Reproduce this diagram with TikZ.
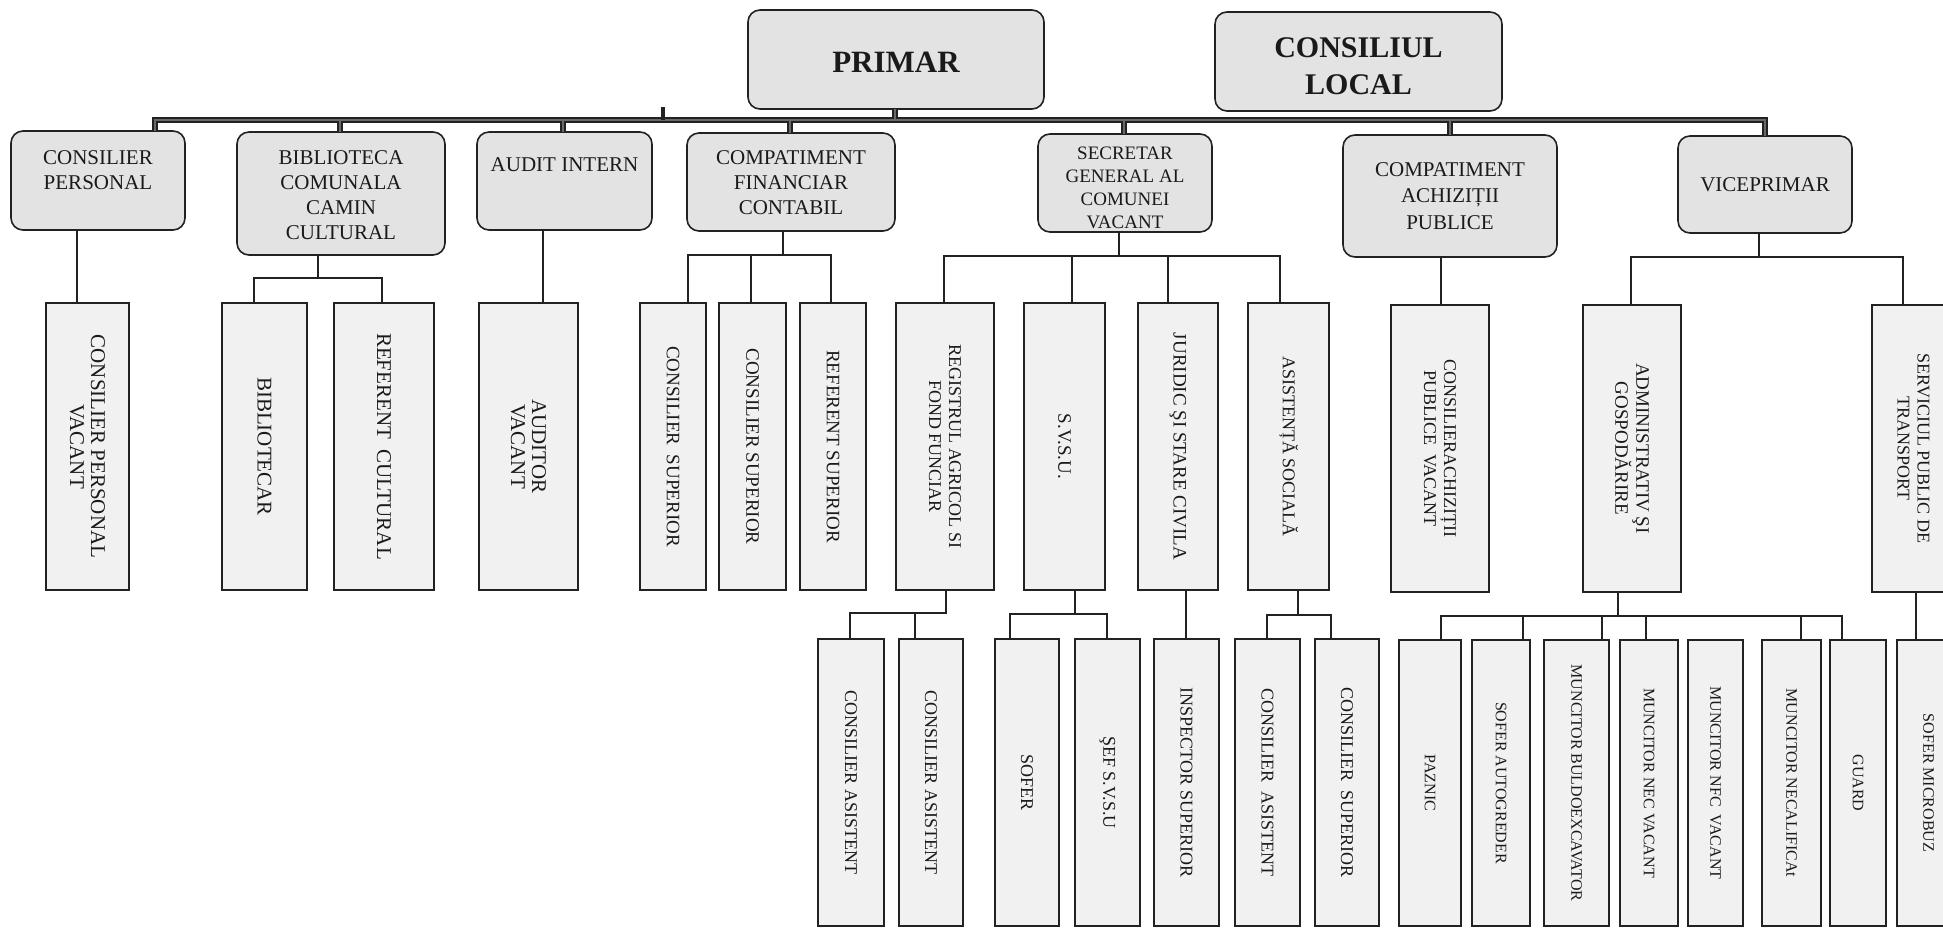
\documentclass[tikz,border=0pt]{standalone}
\usepackage{fontspec}
\setmainfont{Liberation Serif}
\definecolor{rfill}{HTML}{E3E3E3}
\definecolor{tfill}{HTML}{F1F1F1}
\definecolor{edge}{HTML}{222222}
\definecolor{ink}{HTML}{1A1A1A}
\definecolor{busmid}{HTML}{6A6A6A}
\newcommand\dsp{\hspace{0.5em}}
\tikzset{
 rbx/.style={draw=edge, line width=1.6pt, fill=rfill, rounded corners=12pt, inner sep=0pt, outer sep=0pt},
 tbx/.style={draw=edge, line width=1.4pt, fill=tfill, inner sep=0pt, outer sep=0pt},
 lbl/.style={text=ink, align=center, inner sep=0pt},
 vlbl/.style={lbl, rotate=-90},
 conn/.style={draw=edge, line width=1.4pt, line cap=rect},
 busout/.style={draw=edge, line width=6pt},
 busin/.style={draw=busmid, line width=2.4pt},
 fT/.style={font=\fontsize{21}{25}\selectfont},
 fS/.style={font=\fontsize{19}{23}\selectfont},
 fA/.style={font=\fontsize{21}{26.5}\selectfont},
 fB/.style={font=\fontsize{21}{21}\selectfont},
 fC/.style={font=\fontsize{19}{21}\selectfont},
 fD/.style={font=\fontsize{18}{20}\selectfont},
 fE/.style={font=\fontsize{16}{18}\selectfont},
}
\newcommand\mkrbox[5]{\node[rbx, minimum width={#4-#2}, minimum height={#5-#3}] (#1) at ({(#2+#4)/2},{(#3+#5)/2}) {};}
\newcommand\mktbox[7]{\node[tbx, minimum width={#4-#2}, minimum height={#5-#3}] (#1) at ({(#2+#4)/2},{(#3+#5)/2}) {};
 \node[vlbl,#6] at (#1.center) {#7};}
% straight drop from parent to child at abscissa #1
\newcommand\drop[3]{\coordinate (tmpd) at (#1,0); \draw[conn] (#2.south -| tmpd) -- (#3.north -| tmpd);}
% stem from parent down to bar point
\newcommand\stem[3]{\coordinate (tmps) at (#1,#3); \draw[conn] (#2.south -| tmps) -- (tmps);}
% leg from bar point down to child
\newcommand\leg[3]{\coordinate (tmpl) at (#1,#3); \draw[conn] (tmpl) -- (#2.north -| tmpl);}
\begin{document}
\begin{tikzpicture}[x=1pt,y=-1pt]
\useasboundingbox (0,0) rectangle (1943,928);
\fill[white] (0,0) rectangle (1943,928);
\clip (0,0) rectangle (1943,928);

% ---------- top level ----------
\mkrbox{primar}{748}{10}{1044}{109}
\mkrbox{cl}{1215}{12}{1502}{111}
\node[lbl, font=\bfseries\fontsize{31}{36}\selectfont, yshift=-3pt] at (primar.center) {PRIMAR};
\node[lbl, font=\bfseries\fontsize{30}{37}\selectfont, yshift=-5pt] at (cl.center) {CONSILIUL\\LOCAL};

% ---------- row 1 ----------
\mkrbox{cp}{11}{131}{185}{230}
\mkrbox{bib}{237}{132}{445}{255}
\mkrbox{aud}{477}{132}{652}{230}
\mkrbox{cfin}{687}{133}{895}{231}
\mkrbox{sec}{1038}{134}{1212}{232}
\mkrbox{ach}{1343}{135}{1557}{257}
\mkrbox{vice}{1678}{136}{1852}{233}
\node[lbl, fT, anchor=north] at ([yshift=-19pt]cp.north) {CONSILIER\\PERSONAL};
\node[lbl, fT, anchor=north] at ([yshift=-18pt]bib.north) {BIBLIOTECA\\COMUNALA\\CAMIN\\CULTURAL};
\node[lbl, fT, anchor=north] at ([yshift=-25pt]aud.north) {AUDIT INTERN};
\node[lbl, fT, anchor=north] at ([yshift=-17pt]cfin.north) {COMPATIMENT\\FINANCIAR\\CONTABIL};
\node[lbl, fS, anchor=north] at ([yshift=-13pt]sec.north) {SECRETAR\\GENERAL AL\\COMUNEI\\VACANT};
\node[lbl, fA, anchor=north] at ([yshift=-27pt]ach.north) {COMPATIMENT\\ACHIZIȚII\\PUBLICE};
\node[lbl, fT] at (vice.center) {VICEPRIMAR};

% ---------- main bus ----------
\coordinate (bL) at (155,120);
\coordinate (bR) at (1765,120);
\coordinate (xbib) at (340,120);
\coordinate (xaud) at (563,120);
\coordinate (xcfin) at (790,120);
\coordinate (xsec) at (1124,120);
\coordinate (xach) at (1450,120);
\coordinate (xpr) at (895,120);
\coordinate (xtk) at (663,120);
\coordinate (tick) at (663,107);
\foreach \st in {busout,busin}{
 \draw[\st] (bL |- cp.north) -- (bL) -- (bR) -- (bR |- vice.north);
 \draw[\st] (xbib) -- (xbib |- bib.north);
 \draw[\st] (xaud) -- (xaud |- aud.north);
 \draw[\st] (xcfin) -- (xcfin |- cfin.north);
 \draw[\st] (xsec) -- (xsec |- sec.north);
 \draw[\st] (xach) -- (xach |- ach.north);
 \draw[\st] (xpr) -- (xpr |- primar.south);
}
\draw[draw=edge, line width=4pt] (xtk) -- (tick);

% ---------- row 2 ----------
\mktbox{cpv}{46}{303}{129}{590}{fB}{CONSILIER PERSONAL\\VACANT}
\mktbox{bcar}{222}{303}{307}{590}{fB}{BIBLIOTECAR}
\mktbox{refc}{334}{303}{434}{590}{fB}{REFERENT\dsp CULTURAL}
\mktbox{audv}{479}{303}{578}{590}{fB}{AUDITOR\\VACANT}
\mktbox{cs1}{640}{303}{706}{590}{fC}{CONSILIER\dsp SUPERIOR}
\mktbox{cs2}{719}{303}{786}{590}{fC}{CONSILIER SUPERIOR}
\mktbox{rs}{800}{303}{866}{590}{fC}{REFERENT SUPERIOR}
\mktbox{reg}{896}{303}{994}{590}{fD}{REGISTRUL AGRICOL SI\\FOND FUNCIAR}
\mktbox{svsu}{1024}{303}{1105}{590}{fC}{S.V.S.U.}
\mktbox{jur}{1138}{303}{1218}{590}{fC}{JURIDIC ŞI STARE CIVILA}
\mktbox{asis}{1248}{303}{1329}{590}{fD}{ASISTENȚĂ SOCIALĂ}
\mktbox{cach}{1391}{305}{1489}{592}{fD}{CONSILIERACHIZIȚII\\PUBLICE\dsp VACANT}
\mktbox{adm}{1583}{305}{1681}{592}{fC}{ADMINISTRATIV ŞI\\GOSPODĂRIRE}
\mktbox{serv}{1872}{305}{1955}{592}{fD}{SERVICIUL PUBLIC DE\\TRANSPORT}

% ---------- row 3 ----------
\mktbox{ca1}{818}{639}{884}{926}{fD}{CONSILIER ASISTENT}
\mktbox{ca2}{899}{639}{963}{926}{fD}{CONSILIER ASISTENT}
\mktbox{sof}{995}{639}{1059}{926}{fD}{SOFER}
\mktbox{sef}{1075}{639}{1140}{926}{fD}{ŞEF S.V.S.U}
\mktbox{insp}{1154}{639}{1219}{926}{fD}{INSPECTOR SUPERIOR}
\mktbox{ca3}{1235}{639}{1300}{926}{fD}{CONSILIER\dsp ASISTENT}
\mktbox{csup}{1315}{639}{1379}{926}{fD}{CONSILIER\dsp SUPERIOR}
\mktbox{paz}{1399}{640}{1461}{926}{fE}{PAZNIC}
\mktbox{saut}{1472}{640}{1530}{926}{fE}{SOFER AUTOGREDER}
\mktbox{buld}{1544}{640}{1609}{926}{fE}{MUNCITOR BULDOEXCAVATOR}
\mktbox{nec}{1620}{640}{1678}{926}{fE}{MUNCITOR NEC VACANT}
\mktbox{nfc}{1688}{640}{1743}{926}{fE}{MUNCITOR NFC\dsp VACANT}
\mktbox{necal}{1762}{640}{1821}{926}{fE}{MUNCITOR NECALIFICAt}
\mktbox{guard}{1830}{640}{1886}{926}{fE}{GUARD}
\mktbox{smic}{1897}{640}{1960}{926}{fE}{SOFER MICROBUZ}

% ---------- connectors row1 -> row2 ----------
\drop{77}{cp}{cpv}
\stem{318}{bib}{278}
\draw[conn] (254,278) coordinate (b1l) -- (382,278) coordinate (b1r);
\leg{254}{bcar}{278}
\leg{382}{refc}{278}
\drop{543}{aud}{audv}
\stem{783}{cfin}{255}
\draw[conn] (688,255) coordinate (b2l) -- (831,255) coordinate (b2r);
\leg{688}{cs1}{255}
\leg{751}{cs2}{255}
\leg{831}{rs}{255}
\stem{1119}{sec}{256}
\draw[conn] (944,256) coordinate (b3l) -- (1280,256) coordinate (b3r);
\leg{944}{reg}{256}
\leg{1072}{svsu}{256}
\leg{1168}{jur}{256}
\leg{1280}{asis}{256}
\drop{1441}{ach}{cach}
\stem{1759}{vice}{257}
\draw[conn] (1631,257) coordinate (b4l) -- (1903,257) coordinate (b4r);
\leg{1631}{adm}{257}
\leg{1903}{serv}{257}

% ---------- connectors row2 -> row3 ----------
\stem{946}{reg}{613}
\draw[conn] (850,613) coordinate (b5l) -- (946,613) coordinate (b5r);
\leg{850}{ca1}{613}
\leg{915}{ca2}{613}
\stem{1075}{svsu}{614}
\draw[conn] (1010,614) coordinate (b6l) -- (1107,614) coordinate (b6r);
\leg{1010}{sof}{614}
\leg{1107}{sef}{614}
\drop{1186}{jur}{insp}
\stem{1298}{asis}{615}
\draw[conn] (1267,615) coordinate (b7l) -- (1331,615) coordinate (b7r);
\leg{1267}{ca3}{615}
\leg{1331}{csup}{615}
\stem{1618}{adm}{616}
\draw[conn] (1441,616) coordinate (b8l) -- (1842,616) coordinate (b8r);
\leg{1441}{paz}{616}
\leg{1523}{saut}{616}
\leg{1602}{buld}{616}
\leg{1646}{nec}{616}
\leg{1801}{necal}{616}
\leg{1842}{guard}{616}
\drop{1916}{serv}{smic}
\end{tikzpicture}
\end{document}
